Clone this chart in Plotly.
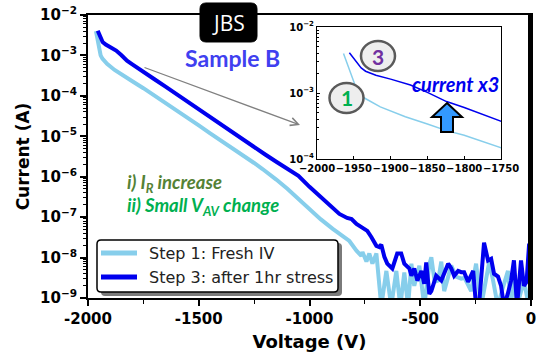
import numpy as np
import plotly.graph_objects as go

# ---------------- data ----------------
v_step3 = [-1956, -1950, -1945, -1940, -1934, -1920, -1900, -1873, -1850, -1824, -1800, -1775, -1750,
           -1700, -1650, -1600, -1550, -1500, -1450, -1400, -1350, -1300, -1250, -1200, -1150, -1100,
           -1050, -1000, -950, -900, -865, -830, -810, -788, -761, -739, -721, -698, -685, -676, -662,
           -649, -626, -604, -586, -572, -549, -540, -527, -513, -495, -482, -473, -459, -450, -428,
           -405, -374, -360, -347, -329, -315, -302, -284, -261, -248, -235, -212, -194, -180, -167,
           -149, -135, -122, -105, -90, -77, -63, -45, -32, -20, -9, 0]
log_i_step3 = [-2.39, -2.48, -2.56, -2.62, -2.67, -2.73, -2.79, -2.88, -2.99, -3.13, -3.22, -3.32, -3.41,
               -3.59, -3.77, -3.96, -4.14, -4.33, -4.52, -4.70, -4.89, -5.07, -5.26, -5.45, -5.63, -5.80,
               -5.98, -6.25, -6.50, -6.74, -6.92, -7.02, -7.05, -7.17, -7.25, -7.34, -7.49, -7.71, -7.74,
               -7.68, -7.98, -8.15, -8.27, -7.90, -7.90, -8.15, -8.27, -8.45, -8.27, -8.57, -8.33, -8.65,
               -8.12, -8.90, -8.83, -8.45, -8.57, -8.15, -8.27, -8.45, -8.33, -8.36, -8.36, -8.60, -8.33,
               -9.20, -9.20, -7.63, -8.07, -8.03, -8.40, -8.47, -8.70, -9.20, -8.90, -8.57, -8.07, -9.20,
               -8.07, -8.70, -8.60, -7.70, -7.70]

v_step1 = [-1964, -1958, -1951, -1947, -1943, -1935, -1914, -1880, -1850, -1824, -1800, -1750, -1700,
           -1650, -1600, -1550, -1500, -1450, -1400, -1350, -1300, -1250, -1212, -1180, -1150, -1100,
           -1050, -1000, -950, -895, -851, -820, -788, -766, -761, -743, -730, -716, -698, -676, -653,
           -631, -608, -590, -572, -555, -540, -527, -504, -482, -459, -450, -435, -419, -405, -392,
           -360, -338, -315, -300, -270, -248, -225, -189, -171, -150, -130, -104, -90, -77, -63, -32,
           -10, 0]
log_i_step1 = [-2.40, -2.58, -2.80, -2.92, -3.00, -3.08, -3.21, -3.36, -3.47, -3.57, -3.64, -3.81, -3.99,
               -4.17, -4.36, -4.55, -4.73, -4.92, -5.10, -5.29, -5.47, -5.66, -5.81, -5.93, -6.07, -6.30,
               -6.55, -6.80, -7.05, -7.29, -7.46, -7.59, -7.83, -7.96, -7.86, -8.10, -7.90, -8.15, -7.90,
               -9.20, -8.33, -9.20, -8.33, -9.20, -8.37, -9.20, -8.15, -8.70, -8.20, -9.20, -8.17, -7.99,
               -8.60, -8.57, -8.10, -8.83, -8.20, -8.47, -8.52, -8.50, -8.83, -8.15, -9.20, -8.12, -8.57,
               -9.20, -8.80, -8.33, -9.20, -8.33, -9.20, -8.57, -9.20, -9.20]

x_ticks = [-2000, -1500, -1000, -500, 0]
x_ticklabels = ['-2000', '-1500', '-1000', '-500', '0']
y_exps = [-9, -8, -7, -6, -5, -4, -3, -2]
inset_x_ticks = [-2000, -1950, -1900, -1850, -1800, -1750]
inset_y_exps = [-4, -3, -2]

names = ['Step 1: Fresh IV', 'Step 3: after 1hr stress']
c1 = '#87CEEB'
c3 = '#0000EE'

i_step1 = [10 ** e for e in log_i_step1]
i_step3 = [10 ** e for e in log_i_step3]

# ---------------- geometry helpers ----------------
L, R, T, B = 88, 5, 15, 60
W, H = 536, 358
PW, PH = W - L - R, H - T - B


def px(x):
    return (x - L) / PW


def py(y):
    return (H - B - y) / PH


fig = go.Figure()

fig.add_trace(go.Scatter(x=v_step1, y=i_step1, mode='lines', name=names[0], showlegend=False,
                         line=dict(color=c1, width=4), xaxis='x', yaxis='y'))
fig.add_trace(go.Scatter(x=v_step3, y=i_step3, mode='lines', name=names[1], showlegend=False,
                         line=dict(color=c3, width=4), xaxis='x', yaxis='y'))
fig.add_trace(go.Scatter(x=v_step1, y=i_step1, mode='lines', showlegend=False,
                         line=dict(color=c1, width=1.5), xaxis='x2', yaxis='y2'))
fig.add_trace(go.Scatter(x=v_step3, y=i_step3, mode='lines', showlegend=False,
                         line=dict(color=c3, width=1.5), xaxis='x2', yaxis='y2'))

sup = lambda e: '10<sup>\u2212%d</sup>' % (-e)
minor_main = [m * 10.0 ** e for e in range(-9, -2) for m in range(2, 10)]
minor_inset = [m * 10.0 ** e for e in range(-4, -2) for m in range(2, 10)]

bold = dict(family='DejaVu Sans', size=15, color='black', weight='bold')

fig.update_layout(
    width=W, height=H, autosize=False, showlegend=False,
    margin=dict(l=L, r=R, t=T, b=B, pad=0, autoexpand=False),
    paper_bgcolor='white', plot_bgcolor='white',
    xaxis=dict(domain=[0, 1], range=[-2000, 0], tickmode='array', tickvals=x_ticks, automargin=False,
               ticktext=x_ticklabels, ticks='outside', ticklen=6, tickwidth=2, tickcolor='black',
               showline=True, linewidth=2, linecolor='black', mirror=True, showgrid=False,
               zeroline=False, tickfont=bold, tickangle=0, ticklabeloverflow='allow',
               minor=dict(tickvals=[-1750, -1250, -750, -250], ticks='outside', ticklen=4,
                          tickwidth=1.2, tickcolor='black', showgrid=False),
               title=dict(text='Voltage (V)', font=dict(family='DejaVu Sans', size=18,
                                                         color='black', weight='bold'), standoff=8)),
    yaxis=dict(domain=[0, 1], type='log', range=[-9, -2], tickmode='array', automargin=False,
               tickvals=[10.0 ** e for e in y_exps], ticktext=[sup(e) for e in y_exps],
               ticks='outside', ticklen=6, tickwidth=2, tickcolor='black', ticklabeloverflow='allow',
               showline=True, linewidth=2, linecolor='black', mirror=True, showgrid=False,
               zeroline=False, tickfont=bold,
               minor=dict(tickvals=minor_main, ticks='outside', ticklen=3, tickwidth=1,
                          tickcolor='black', showgrid=False),
               title=dict(text='Current (A)', font=dict(family='DejaVu Sans', size=17,
                                                         color='black', weight='bold'), standoff=6)),
    xaxis2=dict(domain=[px(317), px(501)], anchor='y2', range=[-2000, -1750], tickmode='array',
                tickvals=inset_x_ticks, ticktext=['\u2212%d' % (-t) for t in inset_x_ticks],
                ticks='inside', ticklen=3, tickwidth=1, tickcolor='black', tickangle=0,
                showline=True, linewidth=1, linecolor='black', mirror=True, showgrid=False,
                zeroline=False, automargin=False, ticklabeloverflow='allow',
                tickfont=dict(family='DejaVu Sans', size=10, color='black', weight='bold')),
    yaxis2=dict(domain=[py(159), py(27)], anchor='x2', type='log', range=[-4, -2], tickmode='array',
                tickvals=[10.0 ** e for e in inset_y_exps], ticktext=[sup(e) for e in inset_y_exps],
                ticks='inside', ticklen=3, tickwidth=1, tickcolor='black', automargin=False,
                showline=True, linewidth=1, linecolor='black', mirror=True, showgrid=False,
                zeroline=False, ticklabeloverflow='allow',
                tickfont=dict(family='DejaVu Sans', size=10, color='black', weight='bold'),
                minor=dict(tickvals=minor_inset, ticks='inside', ticklen=2, tickwidth=0.8,
                           tickcolor='black', showgrid=False)),
)


def rounded(x0, y0, x1, y1, r):
    return ('M %f,%f L %f,%f Q %f,%f %f,%f L %f,%f Q %f,%f %f,%f L %f,%f Q %f,%f %f,%f L %f,%f Q %f,%f %f,%f Z' % (
        px(x0 + r), py(y0), px(x1 - r), py(y0), px(x1), py(y0), px(x1), py(y0 + r),
        px(x1), py(y1 - r), px(x1), py(y1), px(x1 - r), py(y1),
        px(x0 + r), py(y1), px(x0), py(y1), px(x0), py(y1 - r),
        px(x0), py(y0 + r), px(x0), py(y0), px(x0 + r), py(y0)))


shapes = []
# right spine (drawn explicitly, slightly inside)
shapes.append(dict(type='line', xref='paper', yref='paper', x0=px(529.5), x1=px(529.5), y0=0, y1=1,
                   line=dict(color='black', width=3), layer='above'))
# dashed zoom rectangle
shapes.append(dict(type='rect', xref='x', yref='y', x0=-2000, x1=-1755, y0=-4, y1=-2,
                   line=dict(color='#8c8c8c', width=2, dash='dash'), layer='above'))
# legend (shadow, frame, samples)
shapes.append(dict(type='path', xref='paper', yref='paper', path=rounded(101, 243, 342, 296, 4),
                   fillcolor='#7a7a7a', line=dict(width=0), layer='above'))
shapes.append(dict(type='path', xref='paper', yref='paper', path=rounded(97, 240, 338, 292, 4),
                   fillcolor='white', line=dict(color='black', width=1.5), layer='above'))
for yy, col in [(253, c1), (277, c3)]:
    shapes.append(dict(type='line', xref='paper', yref='paper', x0=px(101), x1=px(137),
                       y0=py(yy), y1=py(yy), line=dict(color=col, width=5), layer='above'))
# JBS rounded box
shapes.append(dict(type='path', xref='paper', yref='paper', path=rounded(200, 3, 257, 42, 6),
                   fillcolor='black', line=dict(color='black', width=1), layer='above'))
for cx, cy in [(378, 56), (346.5, 98)]:
    shapes.append(dict(type='circle', xref='paper', yref='paper', xsizemode='pixel', ysizemode='pixel',
                       xanchor=px(cx), yanchor=py(cy), x0=-17, x1=17, y0=-15, y1=15,
                       fillcolor='#eeeeee', line=dict(color='#5a5a5a', width=2.5), layer='above'))
pts = [(447, 103), (462, 117), (453, 117), (453, 132), (441, 132), (441, 117), (432, 117)]
apath = 'M ' + ' L '.join('%f,%f' % (px(a), py(b)) for a, b in pts) + ' Z'
shapes.append(dict(type='path', xref='paper', yref='paper', path=apath, fillcolor='#3399ff',
                   line=dict(color='black', width=2), layer='above'))
fig.update_layout(shapes=shapes)


def note(x, y, text, font, xanchor='center'):
    return dict(xref='paper', yref='paper', x=px(x), y=py(y), text=text, showarrow=False,
                xanchor=xanchor, yanchor='middle', font=font)


ann = []
ann.append(dict(xref='paper', yref='paper', x=px(300), y=py(125), ax=143 - 300, ay=67 - 125,
                axref='pixel', ayref='pixel', showarrow=True, arrowhead=5, arrowsize=1.3,
                arrowwidth=1.2, arrowcolor='#808080', text=''))
ann.append(note(228.5, 23, 'JBS', dict(family='Open Sans', size=21, color='white')))
ann.append(note(232, 58, '<b>Sample B</b>', dict(family='Lato', size=23, color='#4040f0')))
ann.append(note(378, 56, '<b>3</b>', dict(family='Lato', size=21, color='#7030a0')))
ann.append(note(346.5, 98, '<b>1</b>', dict(family='Lato', size=21, color='#00b050')))
ann.append(note(455, 84, '<b><i>current x3</i></b>', dict(family='Lato', size=20, color='#0000ee')))
ann.append(note(125, 183, '<b><i>i) I<sub>R</sub> increase</i></b>',
                dict(family='Lato', size=18.5, color='#548235'), xanchor='left'))
ann.append(note(125, 206, '<b><i>ii) Small V<sub>AV</sub> change</i></b>',
                dict(family='Lato', size=18.5, color='#00b050'), xanchor='left'))
ann.append(note(147, 253, names[0], dict(family='DejaVu Sans', size=16, color='#222'), xanchor='left'))
ann.append(note(147, 277, names[1], dict(family='DejaVu Sans', size=16, color='#222'), xanchor='left'))
fig.update_layout(annotations=ann)

fig.write_html('out.html')
